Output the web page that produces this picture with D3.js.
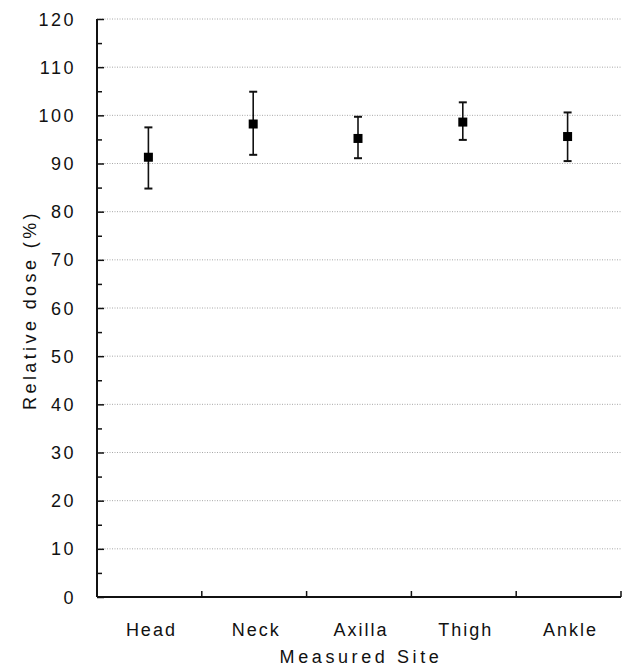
<!DOCTYPE html>
<html>
<head>
<meta charset="utf-8">
<script src="https://cdn.jsdelivr.net/npm/d3@7"></script>
<style>
  body { margin: 0; background: #fff; }
  text { font-family: "Liberation Sans", Arial, sans-serif; fill: #111; }
</style>
</head>
<body>
<svg id="chart" width="627" height="671"></svg>
<script>
const categories = ["Head", "Neck", "Axilla", "Thigh", "Ankle"];
const means = [91.3, 98.2, 95.2, 98.6, 95.6];
const upper = [97.5, 104.9, 99.7, 102.7, 100.6];
const lower = [84.8, 91.8, 91.1, 94.9, 90.5];
const yTicks = [0, 10, 20, 30, 40, 50, 60, 70, 80, 90, 100, 110, 120];
const yMinorTicks = [5, 15, 25, 35, 45, 55, 65, 75, 85, 95, 105, 115];
const xLabel = "Measured Site";
const yLabel = "Relative dose (%)";

const svg = d3.select("#chart");
const L = 97, R = 621, T = 19, B = 597;

const x = d3.scaleBand().domain(categories).range([L, R]).padding(0);
const y = d3.scaleLinear().domain([0, 120]).range([B, T]);

// gridlines
svg.append("g").selectAll("line").data(yTicks.filter(d => d > 0)).join("line")
  .attr("x1", L).attr("x2", R)
  .attr("y1", d => y(d)).attr("y2", d => y(d))
  .attr("stroke", "#a8a8a8").attr("stroke-width", 1)
  .attr("stroke-dasharray", "1,1.5");

// y axis
const yAxis = d3.axisRight(y).tickValues(yTicks).tickSize(7).tickFormat("");
const gy = svg.append("g").attr("transform", `translate(${L},0)`).call(yAxis);
gy.select(".domain").remove();
gy.selectAll(".tick line").attr("stroke", "#111").attr("stroke-width", 1.5);
const yMinor = d3.axisRight(y).tickValues(yMinorTicks).tickSize(5).tickFormat("");
const gym = svg.append("g").attr("transform", `translate(${L},0)`).call(yMinor);
gym.select(".domain").remove();
gym.selectAll(".tick line").attr("stroke", "#111").attr("stroke-width", 1.5);
svg.append("line").attr("x1", L).attr("x2", L).attr("y1", y(120)).attr("y2", y(0))
  .attr("stroke", "#111").attr("stroke-width", 2);

// y tick labels
svg.append("g").selectAll("text").data(yTicks).join("text")
  .attr("x", L - 21).attr("y", d => y(d) + 6.5)
  .attr("text-anchor", "end")
  .style("font-size", "18px").style("letter-spacing", "2.5px")
  .text(d => d);

// x axis
svg.append("line").attr("x1", L).attr("x2", R).attr("y1", B).attr("y2", B)
  .attr("stroke", "#111").attr("stroke-width", 2);
svg.append("g").selectAll("line").data(categories).join("line")
  .attr("x1", d => x(d) + x.bandwidth()).attr("x2", d => x(d) + x.bandwidth())
  .attr("y1", B).attr("y2", B - 6)
  .attr("stroke", "#111").attr("stroke-width", 1.5);

// x labels
svg.append("g").selectAll("text").data(categories).join("text")
  .attr("x", d => x(d) + x.bandwidth() / 2 + 2).attr("y", 636)
  .attr("text-anchor", "middle")
  .style("font-size", "18px").style("letter-spacing", "2px")
  .text(d => d);

svg.append("text").attr("x", (L + R) / 2 + 2).attr("y", 663)
  .attr("text-anchor", "middle")
  .style("font-size", "18px").style("letter-spacing", "3.6px")
  .text(xLabel);

svg.append("text")
  .attr("transform", `translate(36,${(T + B) / 2 + 2}) rotate(-90)`)
  .attr("text-anchor", "middle")
  .style("font-size", "18px").style("letter-spacing", "3.4px")
  .text(yLabel);

// error bars
const data = categories.map((c, i) => ({ c, m: means[i], hi: upper[i], lo: lower[i] }));
const cx = d => x(d.c) + x.bandwidth() / 2 - 1;
const g = svg.append("g");
g.selectAll(".wh").data(data).join("line")
  .attr("x1", cx).attr("x2", cx)
  .attr("y1", d => y(d.hi)).attr("y2", d => y(d.lo))
  .attr("stroke", "#111").attr("stroke-width", 1.6);
g.selectAll(".cap-hi").data(data).join("line")
  .attr("x1", d => cx(d) - 4).attr("x2", d => cx(d) + 4)
  .attr("y1", d => y(d.hi)).attr("y2", d => y(d.hi))
  .attr("stroke", "#111").attr("stroke-width", 2);
g.selectAll(".cap-lo").data(data).join("line")
  .attr("x1", d => cx(d) - 4).attr("x2", d => cx(d) + 4)
  .attr("y1", d => y(d.lo)).attr("y2", d => y(d.lo))
  .attr("stroke", "#111").attr("stroke-width", 2);
g.selectAll("rect").data(data).join("rect")
  .attr("x", d => cx(d) - 4.5).attr("y", d => y(d.m) - 4.5)
  .attr("width", 9).attr("height", 9)
  .attr("fill", "#000");
</script>
</body>
</html>
